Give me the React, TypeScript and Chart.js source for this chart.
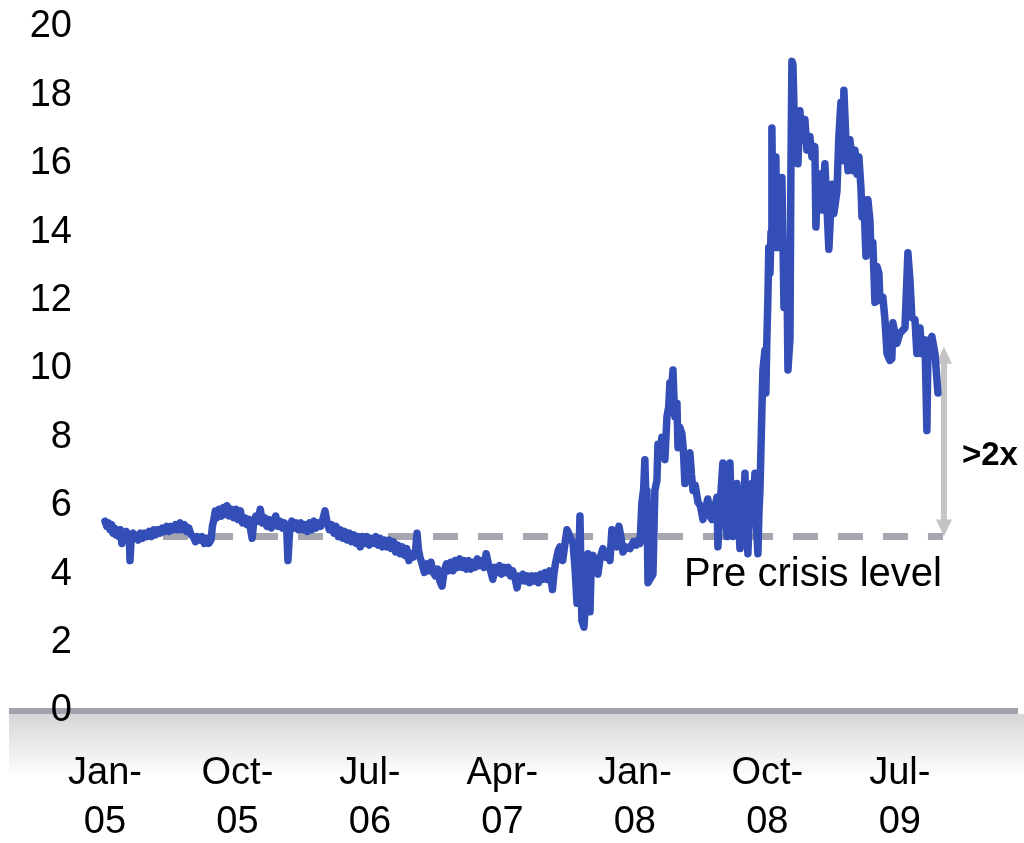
import React, { useEffect, useRef } from "react";
import { Chart, registerables } from "chart.js";

Chart.register(...registerables);

// x = months since Jan-2005, y = value
const tickMonths = [0, 9, 18, 27, 36, 45, 54];
const tickLabels = [
  ["Jan-", "05"],
  ["Oct-", "05"],
  ["Jul-", "06"],
  ["Apr-", "07"],
  ["Jan-", "08"],
  ["Oct-", "08"],
  ["Jul-", "09"],
];

const seg2005 = [
  [0, 5.55], [0.12, 5.4], [0.25, 5.5], [0.35, 5.3], [0.45, 5.45], [0.55, 5.2], [0.65, 5.35], [0.75, 5.15],
  [0.85, 5.3], [0.95, 5.1], [1.05, 5.3], [1.15, 4.9], [1.25, 5.2], [1.35, 5.05], [1.45, 5.25], [1.55, 5.05],
  [1.65, 5.15], [1.7, 4.4], [1.78, 5.05], [1.9, 5.2], [2.0, 5.05], [2.1, 5.15], [2.25, 5.0], [2.4, 5.2],
  [2.55, 5.05], [2.7, 5.2], [2.85, 5.1], [3.0, 5.25], [3.15, 5.1], [3.3, 5.3], [3.45, 5.15], [3.6, 5.3],
  [3.75, 5.2], [3.9, 5.35], [4.05, 5.25], [4.2, 5.4], [4.35, 5.25], [4.5, 5.4], [4.65, 5.3], [4.8, 5.45],
  [4.95, 5.3], [5.1, 5.5], [5.25, 5.3], [5.4, 5.45], [5.55, 5.25], [5.7, 5.35], [5.85, 5.15], [6.0, 5.1],
  [6.15, 4.95], [6.3, 5.1], [6.45, 5.0], [6.6, 5.1], [6.75, 4.9], [6.9, 5.05], [7.05, 4.9], [7.2, 5.0],
  [7.3, 5.4], [7.4, 5.6], [7.5, 5.85],
];

const seg2006 = [
  [7.6, 5.65], [7.75, 5.9], [7.9, 5.7], [8.05, 5.95], [8.2, 5.75], [8.3, 6.0], [8.45, 5.7], [8.6, 5.9],
  [8.75, 5.65], [8.9, 5.9], [9.05, 5.6], [9.2, 5.85], [9.35, 5.5], [9.5, 5.65], [9.65, 5.45], [9.8, 5.6],
  [9.9, 5.3], [10.0, 5.05], [10.1, 5.5], [10.25, 5.7], [10.4, 5.55], [10.55, 5.9], [10.7, 5.5], [10.85, 5.65],
  [11.0, 5.4], [11.15, 5.6], [11.3, 5.35], [11.45, 5.55], [11.6, 5.7], [11.75, 5.4], [11.9, 5.55], [12.05, 5.35],
  [12.2, 5.5], [12.35, 5.3], [12.43, 4.4], [12.55, 5.3], [12.7, 5.55], [12.85, 5.35], [13.0, 5.5], [13.15, 5.3],
  [13.3, 5.5], [13.45, 5.3], [13.6, 5.45], [13.75, 5.25], [13.9, 5.5], [14.05, 5.3], [14.2, 5.55], [14.35, 5.35],
  [14.5, 5.5], [14.65, 5.4], [14.8, 5.6], [14.95, 5.85], [15.1, 5.5], [15.25, 5.3], [15.4, 5.45], [15.55, 5.2],
  [15.7, 5.4], [15.85, 5.1], [16.0, 5.3], [16.15, 5.05], [16.3, 5.25], [16.45, 5.0], [16.6, 5.2], [16.75, 4.95],
  [16.9, 5.15], [17.05, 4.9], [17.2, 5.1], [17.35, 4.8], [17.5, 5.1], [17.65, 4.9], [17.8, 5.1], [17.95, 4.85],
  [18.1, 5.05], [18.25, 4.9], [18.4, 5.1], [18.55, 4.85], [18.7, 5.05], [18.85, 4.8], [19.0, 5.0], [19.15, 4.8],
  [19.3, 5.0], [19.45, 4.75], [19.6, 4.95], [19.75, 4.65], [19.9, 4.85], [20.05, 4.6], [20.2, 4.8], [20.35, 4.55],
  [20.5, 4.75], [20.65, 4.4], [20.8, 4.6], [20.95, 4.5], [21.1, 4.7], [21.2, 5.2], [21.3, 4.7], [21.4, 4.5],
];

const seg2007 = [
  [21.55, 4.3], [21.7, 4.05], [21.85, 4.3], [22.0, 4.1], [22.15, 4.35], [22.3, 4.05], [22.45, 3.95], [22.6, 4.15],
  [22.75, 3.8], [22.9, 3.65], [23.05, 4.1], [23.2, 4.3], [23.35, 4.1], [23.5, 4.35], [23.65, 4.1], [23.8, 4.4],
  [23.95, 4.2], [24.1, 4.45], [24.25, 4.2], [24.4, 4.4], [24.55, 4.15], [24.7, 4.4], [24.85, 4.15], [25.0, 4.35],
  [25.15, 4.2], [25.3, 4.45], [25.45, 4.25], [25.6, 4.4], [25.75, 4.2], [25.9, 4.6], [26.05, 4.3], [26.2, 4.1],
  [26.35, 3.85], [26.5, 4.2], [26.65, 4.05], [26.8, 4.25], [26.95, 4.0], [27.1, 4.2], [27.25, 4.05], [27.4, 4.2],
  [27.55, 3.95], [27.7, 4.1], [27.85, 3.9], [28.0, 3.6], [28.1, 3.95], [28.25, 3.8], [28.4, 4.0], [28.55, 3.8],
  [28.7, 3.95], [28.85, 3.75], [29.0, 3.95], [29.15, 3.8], [29.3, 3.95], [29.45, 3.75], [29.6, 4.0], [29.75, 3.85],
  [29.9, 4.05], [30.05, 3.85], [30.2, 4.1], [30.3, 3.9], [30.4, 3.55], [30.5, 4.0], [30.6, 4.3], [30.7, 4.5],
  [30.8, 4.7],
];

const segCrisis07 = [
  [30.91, 4.8], [31.1, 4.4], [31.25, 4.9], [31.39, 5.3], [31.6, 5.1], [31.8, 4.9], [31.93, 4.2], [32.07, 3.15],
  [32.2, 4.5], [32.27, 5.7], [32.4, 2.65], [32.54, 2.45], [32.65, 3.2], [32.74, 3.85], [32.81, 4.6], [32.95, 2.9],
  [33.05, 4.5], [33.15, 4.55], [33.3, 4.3], [33.49, 4.0], [33.65, 4.5], [33.83, 4.75], [34.0, 4.5], [34.15, 4.65],
  [34.31, 4.4], [34.44, 5.3], [34.6, 4.9], [34.78, 4.8], [34.92, 5.4], [35.05, 5.1], [35.19, 4.65], [35.4, 4.8],
  [35.67, 4.75], [35.9, 4.95], [36.1, 4.85], [36.21, 5.0], [36.35, 4.9], [36.48, 6.1], [36.6, 6.5], [36.68, 7.35],
  [36.75, 6.2], [36.82, 6.45], [36.89, 3.75], [37.02, 3.85], [37.23, 4.0], [37.36, 6.45], [37.5, 6.75], [37.57, 7.8],
  [37.7, 7.6], [37.84, 8.0], [38.04, 7.35], [38.18, 8.6], [38.3, 8.9], [38.38, 9.6], [38.5, 9.4], [38.59, 9.97],
  [38.65, 9.2], [38.72, 8.6], [38.86, 9.0], [38.93, 7.7], [39.05, 8.3], [39.2, 8.1], [39.3, 7.6], [39.4, 6.65],
  [39.55, 7.3], [39.74, 7.55], [39.85, 6.9], [39.95, 6.45], [40.1, 6.6], [40.29, 6.1], [40.45, 6.0], [40.63, 5.6],
  [40.8, 5.9], [40.96, 6.2], [41.1, 5.7], [41.24, 5.6],
];

const segSummer08 = [
  [41.4, 5.9], [41.58, 6.25], [41.64, 4.8], [41.75, 5.7], [41.85, 6.4], [41.98, 7.25], [42.05, 6.1], [42.12, 7.1],
  [42.2, 5.5], [42.26, 5.1], [42.35, 6.8], [42.46, 7.25], [42.55, 5.8], [42.66, 5.1], [42.75, 6.3], [42.85, 5.5],
  [42.93, 6.65], [43.05, 5.6], [43.14, 4.75], [43.25, 6.3], [43.38, 5.5], [43.48, 6.95], [43.58, 5.3], [43.68, 4.6],
  [43.8, 6.0], [43.95, 6.65], [44.05, 6.1], [44.16, 6.95], [44.26, 5.4], [44.36, 4.6], [44.43, 5.8], [44.5, 6.45],
];

const segPeak = [
  [44.63, 8.8], [44.7, 9.97], [44.84, 10.55], [44.9, 9.3], [44.97, 10.9], [45.04, 12.1], [45.1, 13.55], [45.18, 12.8],
  [45.25, 14.0], [45.31, 17.05], [45.38, 14.35], [45.45, 13.6], [45.58, 16.2], [45.65, 13.55], [45.72, 15.4], [45.86, 13.55],
  [45.99, 15.6], [46.06, 13.8], [46.13, 11.8], [46.33, 12.8], [46.4, 9.97], [46.54, 10.9], [46.6, 15.7], [46.67, 19.0],
  [46.74, 18.9], [46.81, 17.65], [47.01, 16.7], [47.08, 16.0], [47.21, 17.55], [47.35, 16.7], [47.55, 17.3], [47.69, 16.4],
  [47.89, 16.8], [48.03, 16.2], [48.23, 16.5], [48.3, 14.15], [48.37, 15.0], [48.57, 15.7], [48.71, 14.65], [48.91, 16.0],
  [49.05, 14.75], [49.18, 13.5], [49.39, 15.4], [49.52, 14.55], [49.73, 15.2], [49.86, 16.8], [50.0, 17.8], [50.14, 16.1],
  [50.2, 18.15], [50.34, 16.7], [50.48, 15.8], [50.61, 16.7], [50.82, 15.8], [50.95, 16.4], [51.09, 15.7], [51.22, 16.2],
];

const seg2009 = [
  [51.36, 15.3], [51.43, 14.45], [51.56, 14.95], [51.7, 13.3], [51.83, 14.95], [51.97, 14.35], [52.04, 13.4], [52.17, 13.7],
  [52.31, 11.95], [52.45, 13.0], [52.58, 12.8], [52.65, 12.0], [52.85, 12.1], [52.99, 11.45], [53.13, 10.45], [53.33, 10.25],
  [53.46, 10.3], [53.53, 11.35], [53.8, 10.75], [54.01, 11.05], [54.35, 11.2], [54.55, 13.4], [54.69, 12.6], [54.82, 11.5],
  [55.03, 11.45], [55.16, 10.45], [55.37, 11.2], [55.5, 10.45], [55.71, 10.85], [55.84, 8.2], [55.91, 10.45], [56.05, 10.85],
  [56.18, 10.95], [56.39, 10.45], [56.59, 9.3],
];

const preCrisisLevel = 5.1;
const preCrisisSpan = [0, 56.93];
const arrowMonth = 57.0;
const arrowSpan = [5.1, 10.65];
const preCrisisLabel = "Pre crisis level";
const ratioLabel = ">2x";

const FONT = '"Liberation Sans", Arial, Helvetica, sans-serif';

const series = [...seg2005, ...seg2006, ...seg2007, ...segCrisis07, ...segSummer08, ...segPeak, ...seg2009];

const decorPlugin = {
  id: "decor",
  beforeDraw(chart: any) {
    const { ctx } = chart;
    const ys = chart.scales.y;
    const y0 = ys.getPixelForValue(0);
    ctx.save();
    const g = ctx.createLinearGradient(0, y0 + 3, 0, y0 + 66);
    g.addColorStop(0, "#d6d6d8");
    g.addColorStop(1, "#ffffff");
    ctx.fillStyle = g;
    ctx.fillRect(9, y0 + 3, chart.width - 9, 63);
    ctx.fillStyle = "#a2a2ac";
    ctx.fillRect(9, y0 - 3, chart.width - 15, 6);
    ctx.restore();
  },
  beforeDatasetsDraw(chart: any) {
    const { ctx } = chart;
    const xs = chart.scales.x;
    const ys = chart.scales.y;
    const ax = xs.getPixelForValue(arrowMonth);
    const yb = ys.getPixelForValue(arrowSpan[0]);
    const yt = ys.getPixelForValue(arrowSpan[1]);
    ctx.save();
    ctx.fillStyle = "#c4c4c4";
    ctx.fillRect(ax - 3, yt + 14, 6, yb - yt - 28);
    ctx.beginPath();
    ctx.moveTo(ax, yt);
    ctx.lineTo(ax - 8, yt + 17);
    ctx.lineTo(ax + 8, yt + 17);
    ctx.closePath();
    ctx.fill();
    ctx.beginPath();
    ctx.moveTo(ax, yb);
    ctx.lineTo(ax - 8, yb - 17);
    ctx.lineTo(ax + 8, yb - 17);
    ctx.closePath();
    ctx.fill();
    ctx.restore();
  },
  afterDatasetsDraw(chart: any) {
    const { ctx } = chart;
    const xs = chart.scales.x;
    const ys = chart.scales.y;
    ctx.save();
    ctx.fillStyle = "#000";
    ctx.font = `40px ${FONT}`;
    ctx.textAlign = "right";
    ctx.textBaseline = "alphabetic";
    ctx.fillText(preCrisisLabel, xs.getPixelForValue(preCrisisSpan[1]) - 1, ys.getPixelForValue(preCrisisLevel) + 49);
    const ax = xs.getPixelForValue(arrowMonth);
    const ym = (ys.getPixelForValue(arrowSpan[0]) + ys.getPixelForValue(arrowSpan[1])) / 2;
    ctx.font = `bold 33px ${FONT}`;
    ctx.textAlign = "left";
    ctx.textBaseline = "middle";
    ctx.fillText(ratioLabel, ax + 18, ym + 14);
    ctx.restore();
  },
};

export default function App() {
  const ref = useRef<HTMLCanvasElement | null>(null);
  useEffect(() => {
    if (!ref.current) return;
    const chart = new Chart(ref.current, {
      type: "line",
      data: {
        datasets: [
          {
            data: series.map(([x, y]) => ({ x, y })),
            borderColor: "#344eb8",
            borderWidth: 7.5,
            pointRadius: 0,
            tension: 0,
            borderJoinStyle: "round",
            borderCapStyle: "round",
            fill: false,
            order: 0,
          },
          {
            data: preCrisisSpan.map((x) => ({ x, y: preCrisisLevel })),
            borderColor: "#a6a6b0",
            borderWidth: 7,
            borderDash: [25, 20],
            borderDashOffset: 32,
            pointRadius: 0,
            fill: false,
            order: 1,
          },
        ],
      },
      options: {
        animation: false,
        responsive: true,
        maintainAspectRatio: false,
        layout: { padding: { top: 27, right: 6, bottom: 0, left: 0 } },
        plugins: { legend: { display: false }, tooltip: { enabled: false } },
        scales: {
          x: {
            type: "linear",
            min: -1.56,
            max: 62.03,
            grid: { display: false, drawTicks: false },
            border: { display: false },
            afterBuildTicks: (scale: any) => {
              scale.ticks = tickMonths.map((v) => ({ value: v }));
            },
            afterFit: (scale: any) => {
              scale.height = 132;
            },
            ticks: {
              autoSkip: false,
              maxRotation: 0,
              minRotation: 0,
              padding: 38,
              color: "#000",
              font: { family: FONT, size: 38, lineHeight: 1.29 },
              callback: (v: any) => {
                const i = tickMonths.indexOf(Number(v));
                return i >= 0 ? tickLabels[i] : "";
              },
            },
          },
          y: {
            min: 0,
            max: 20,
            grid: { display: false, drawTicks: false },
            border: { display: false },
            afterFit: (scale: any) => {
              scale.width = 82;
              scale.paddingTop = 0;
              scale.paddingBottom = 0;
            },
            ticks: {
              stepSize: 2,
              padding: 10,
              color: "#000",
              font: { family: FONT, size: 38, lineHeight: 1.2 },
            },
          },
        },
      },
      plugins: [decorPlugin],
    });
    return () => chart.destroy();
  }, []);
  return (
    <div style={{ position: "fixed", left: 0, top: 0, width: 1024, height: 843, background: "#fff" }}>
      <canvas ref={ref} />
    </div>
  );
}
